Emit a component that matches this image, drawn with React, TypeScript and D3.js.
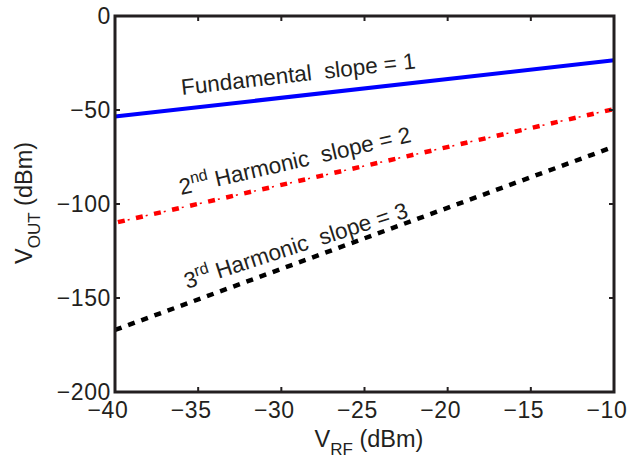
import React from "react";
import * as d3 from "d3";

const vrf = [-40, -10];
const fundamental = [-53.5, -23.5];
const secondHarmonic = [-110, -49.5];
const thirdHarmonic = [-167, -69.5];
const xTicks = [-40, -35, -30, -25, -20, -15, -10];
const yTicks = [0, -50, -100, -150, -200];

const W = 629;
const H = 466;
const M = { left: 115, right: 614, top: 16, bottom: 392 };
const FONT = "'Liberation Sans', Arial, Helvetica, sans-serif";
const AX = "#231f20";

export default function App() {
  const x = d3.scaleLinear().domain([-40, -10]).range([M.left, M.right]);
  const y = d3.scaleLinear().domain([-200, 0]).range([M.bottom, M.top]);
  const line = d3
    .line<[number, number]>()
    .x((d) => x(d[0]))
    .y((d) => y(d[1]));
  const mk = (vals: number[]) => line(vrf.map((v, i) => [v, vals[i]] as [number, number])) || "";

  const tickLen = 5;
  const fmt = (t: number) => (t < 0 ? "\u2212" + Math.abs(t) : String(t));
  return (
    <div style={{ position: "absolute", left: 0, top: 0 }}>
      <svg width={W} height={H} style={{ display: "block", background: "#fff" }} fontFamily={FONT}>
        <rect x={0} y={0} width={W} height={H} fill="#fff" />
        {/* lines */}
        <path d={mk(fundamental)} stroke="#0000ff" strokeWidth={4} fill="none" />
        <path d={mk(secondHarmonic)} stroke="#ff0000" strokeWidth={4.5} fill="none" strokeDasharray="7 11.5" strokeDashoffset={-3} />
        <path d={mk(secondHarmonic)} stroke="#ff0000" strokeWidth={1.5} fill="none" strokeDasharray="2 16.5" strokeDashoffset={-13} />
        <path d={mk(thirdHarmonic)} stroke="#000" strokeWidth={4.5} fill="none" strokeDasharray="7 7" />
        {/* frame */}
        <rect x={M.left} y={M.top} width={M.right - M.left} height={M.bottom - M.top} fill="none" stroke={AX} strokeWidth={3} />
        {xTicks.map((t) => (
          <g key={"x" + t}>
            <line x1={x(t)} x2={x(t)} y1={M.bottom} y2={M.bottom - tickLen} stroke={AX} strokeWidth={2} />
            <line x1={x(t)} x2={x(t)} y1={M.top} y2={M.top + tickLen} stroke={AX} strokeWidth={2} />
            <text x={x(t) - 7} y={418} textAnchor="middle" fontSize={23} letterSpacing={0.6} fill={AX}>
              {fmt(t)}
            </text>
          </g>
        ))}
        {yTicks.map((t) => (
          <g key={"y" + t}>
            <line x1={M.left} x2={M.left + tickLen} y1={y(t)} y2={y(t)} stroke={AX} strokeWidth={2} />
            <line x1={M.right} x2={M.right - tickLen} y1={y(t)} y2={y(t)} stroke={AX} strokeWidth={2} />
            <text x={111} y={y(t) + 8} textAnchor="end" fontSize={23} letterSpacing={0.6} fill={AX}>
              {fmt(t)}
            </text>
          </g>
        ))}
        {/* annotations */}
        <text transform="translate(182,95) rotate(-6.5)" fontSize={22.5} fill={AX} xmlSpace="preserve">
          {"Fundamental  slope = 1"}
        </text>
        <text transform="translate(181,195) rotate(-13)" fontSize={22.5} fill={AX} xmlSpace="preserve">
          <tspan>2</tspan>
          <tspan fontSize={16} dy={-9}>nd</tspan>
          <tspan dy={9}>{" Harmonic  slope = 2"}</tspan>
        </text>
        <text transform="translate(187,289) rotate(-18)" fontSize={22.5} fill={AX} xmlSpace="preserve">
          <tspan>3</tspan>
          <tspan fontSize={16} dy={-9}>rd</tspan>
          <tspan dy={9}>{" Harmonic  slope = 3"}</tspan>
        </text>
        {/* axis labels */}
        <text x={369} y={447} textAnchor="middle" fontSize={23.5} fill={AX}>
          <tspan>V</tspan>
          <tspan fontSize={17} dy={8}>RF</tspan>
          <tspan dy={-8}>{" (dBm)"}</tspan>
        </text>
        <text transform="translate(32,203) rotate(-90)" textAnchor="middle" fontSize={23.5} fill={AX}>
          <tspan>V</tspan>
          <tspan fontSize={17} dy={8}>OUT</tspan>
          <tspan dy={-8}>{" (dBm)"}</tspan>
        </text>
      </svg>
    </div>
  );
}
